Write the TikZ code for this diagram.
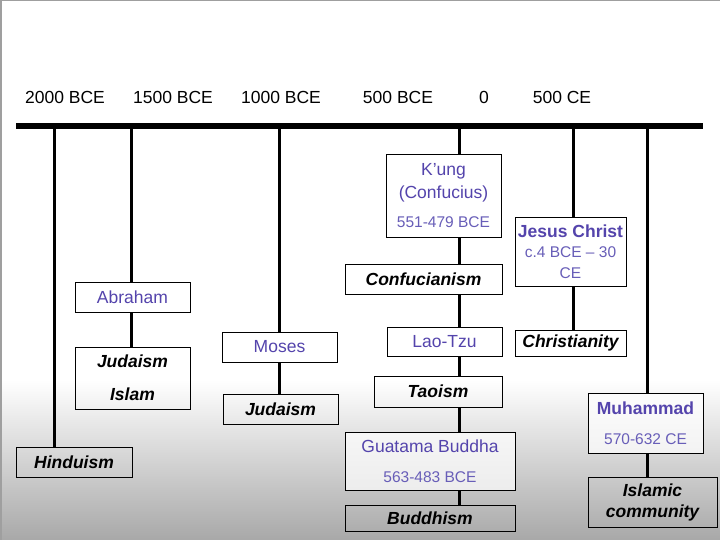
\documentclass[tikz,border=0pt]{standalone}
\usepackage{fontspec}
\setmainfont{Liberation Sans}
\definecolor{namec}{RGB}{84,68,172}
\definecolor{datec}{RGB}{104,94,184}
\newcommand\nmfont{\fontsize{17.5}{21}\selectfont}
\newcommand\dtfont{\fontsize{15.5}{19}\selectfont}
\newcommand\relfont{\fontsize{17.5}{21}\selectfont\bfseries\itshape}
\tikzset{
  lbl/.style={font=\nmfont, inner sep=0pt},
  conn/.style={line width=3pt},
  box/.style={draw=black, line width=1pt, inner sep=0pt, align=center},
  pbox/.style={box, fill=white, fill opacity=0.7, text opacity=1, text=namec, font=\nmfont},
  rbox/.style={box, font=\relfont},
}
\begin{document}
\begin{tikzpicture}[x=1pt,y=-1pt]
\useasboundingbox (0,0) rectangle (720,540);
% background
\fill[white] (0,0) rectangle (720,540);
\shade[top color=white, bottom color=gray!68] (0,380) rectangle (720,540);
\draw[gray!75, line width=1.5pt] (0.75,540) -- (0.75,0.75) -- (720,0.75);

% header labels
\node[lbl] (l2000) at (65,97) {2000 BCE};
\node[lbl] (l1500) at (173,97) {1500 BCE};
\node[lbl] (l1000) at (281,97) {1000 BCE};
\node[lbl] (l500b) at (398,97) {500 BCE};
\node[lbl] (l0) at (484,97) {0};
\node[lbl] (l500c) at (562,97) {500 CE};

% time bar
\node[fill=black, inner sep=0pt, minimum width=687pt, minimum height=6pt] (bar) at (359.5,126) {};

% column x positions
\coordinate (hx) at (54,0);
\coordinate (ax) at (131,0);
\coordinate (mx) at (279,0);
\coordinate (kx) at (459,0);
\coordinate (jx) at (573,0);
\coordinate (ux) at (647,0);

% boxes
\node[pbox, minimum width=115pt, minimum height=30pt] (abraham) at (132.5,297) {Abraham};
\node[rbox, minimum width=115pt, minimum height=62pt] (judisl) at (132.5,378) {Judaism\\[12pt]Islam};
\node[rbox, minimum width=116pt, minimum height=30pt] (hindu) at (74,462) {Hinduism};

\node[pbox, minimum width=115pt, minimum height=30pt] (moses) at (279.5,347) {Moses};
\node[rbox, minimum width=115pt, minimum height=30pt] (jud2) at (280.5,409) {Judaism};

\node[pbox, minimum width=115pt, minimum height=82pt] (kung) at (443.5,196) {K’ung\\[2pt](Confucius)\\[8pt]{\dtfont\color{datec}551-479 BCE}};
\node[rbox, minimum width=157pt, minimum height=30pt] (confu) at (423.5,279) {Confucianism};
\node[pbox, minimum width=115pt, minimum height=29pt] (lao) at (444.5,341.5) {Lao-Tzu};
\node[rbox, minimum width=128pt, minimum height=31pt] (tao) at (438,391.5) {Taoism};
\node[pbox, minimum width=170pt, minimum height=58pt] (buddha) at (430,461) {Guatama Buddha\\[9pt]{\dtfont\color{datec}563-483 BCE}};
\node[rbox, minimum width=170pt, minimum height=26pt] (buddhism) at (430,518) {Buddhism};

\node[pbox, minimum width=111pt, minimum height=68pt] (jesus) at (570.5,252) {\bfseries Jesus Christ\\[-1pt]{\dtfont\color{datec}c.4 BCE – 30}\\[0pt]{\dtfont\color{datec}CE}};
\node[rbox, minimum width=111pt, minimum height=26pt] (christ) at (570.5,343) {Christianity};

\node[pbox, minimum width=115pt, minimum height=60pt] (muh) at (645.5,423) {\bfseries Muhammad\\[9pt]{\dtfont\color{datec}570-632 CE}};
\node[rbox, minimum width=129pt, minimum height=50pt] (islcom) at (652.5,502) {Islamic\\community};

% connectors
\draw[conn] (bar.south -| hx) -- (hindu.north -| hx);
\draw[conn] (bar.south -| ax) -- (abraham.north -| ax);
\draw[conn] (abraham.south -| ax) -- (judisl.north -| ax);
\draw[conn] (bar.south -| mx) -- (moses.north -| mx);
\draw[conn] (moses.south -| mx) -- (jud2.north -| mx);
\draw[conn] (bar.south -| kx) -- (kung.north -| kx);
\draw[conn] (kung.south -| kx) -- (confu.north -| kx);
\draw[conn] (confu.south -| kx) -- (lao.north -| kx);
\draw[conn] (lao.south -| kx) -- (tao.north -| kx);
\draw[conn] (tao.south -| kx) -- (buddha.north -| kx);
\draw[conn] (buddha.south -| kx) -- (buddhism.north -| kx);
\draw[conn] (bar.south -| jx) -- (jesus.north -| jx);
\draw[conn] (jesus.south -| jx) -- (christ.north -| jx);
\draw[conn] (bar.south -| ux) -- (muh.north -| ux);
\draw[conn] (muh.south -| ux) -- (islcom.north -| ux);
\end{tikzpicture}
\end{document}
